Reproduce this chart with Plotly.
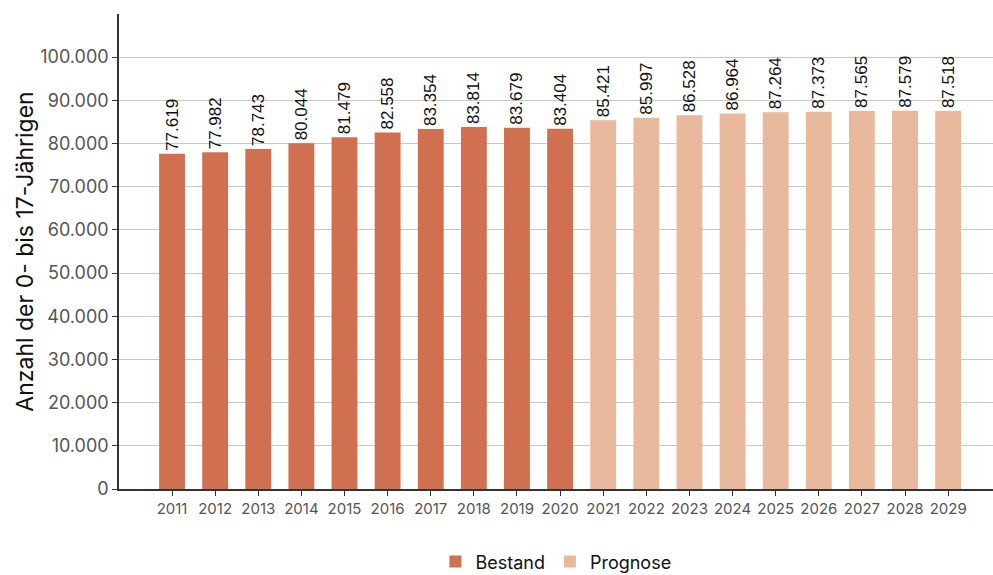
import plotly.graph_objects as go

years_bestand = [2011, 2012, 2013, 2014, 2015, 2016, 2017, 2018, 2019, 2020]
values_bestand = [77619, 77982, 78743, 80044, 81479, 82558, 83354, 83814, 83679, 83404]
years_prognose = [2021, 2022, 2023, 2024, 2025, 2026, 2027, 2028, 2029]
values_prognose = [85421, 85997, 86528, 86964, 87264, 87373, 87565, 87579, 87518]
y_ticks = list(range(0, 100001, 10000))
y_tick_labels = [f"{v:,}".replace(",", ".") for v in y_ticks]


def fmt(v):
    return f"{v:,}".replace(",", ".")


fig = go.Figure()
fig.add_trace(go.Bar(
    x=years_bestand, y=values_bestand, name="Bestand",
    marker=dict(color="#D17050", line=dict(width=0)), width=0.6,
    text=[fmt(v) for v in values_bestand], textposition="outside", textangle=-90,
    constraintext="none",
    textfont=dict(family="Liberation Sans, Arial", size=17, color="#111"),
    cliponaxis=False,
))
fig.add_trace(go.Bar(
    x=years_prognose, y=values_prognose, name="Prognose",
    marker=dict(color="#E8B99C", line=dict(width=0)), width=0.6,
    text=[fmt(v) for v in values_prognose], textposition="outside", textangle=-90,
    constraintext="none",
    textfont=dict(family="Liberation Sans, Arial", size=17, color="#111"),
    cliponaxis=False,
))

fig.update_layout(
    width=993, height=575,
    margin=dict(l=119, r=0, t=14, b=86),
    plot_bgcolor="white", paper_bgcolor="white",
    barmode="overlay",
    font=dict(family="Inter, Liberation Sans, Arial", color="#444"),
    legend=dict(orientation="h", x=0.362, xanchor="left", xref="paper",
                y=0.023, yanchor="middle", yref="container",
                font=dict(size=18, color="#111"), itemwidth=30, traceorder="normal"),
    xaxis=dict(
        range=[2009.77, 2030.04], tickmode="array", tickvals=years_bestand + years_prognose,
        ticktext=[str(y) for y in years_bestand + years_prognose],
        ticks="outside", ticklen=5, tickcolor="#333", showline=True, linecolor="#333",
        linewidth=1.5, showgrid=False, zeroline=False, automargin=False,
        tickfont=dict(size=15, color="#555"),
    ),
    yaxis=dict(
        range=[0, 110000], tickmode="array", tickvals=y_ticks, ticktext=y_tick_labels,
        ticks="outside", ticklen=5, tickcolor="#333", showline=True, linecolor="#333",
        linewidth=1.5, showgrid=True, gridcolor="#c8c8c8", gridwidth=1, zeroline=False,
        automargin=False,
        tickfont=dict(size=18, color="#555"),
        title=dict(text="Anzahl der 0- bis 17-Jährigen", font=dict(size=23, color="#111"), standoff=0),
    ),
)

fig.write_html("out.html", config={"displayModeBar": False},
               post_script="document.body.style.margin='0';")
